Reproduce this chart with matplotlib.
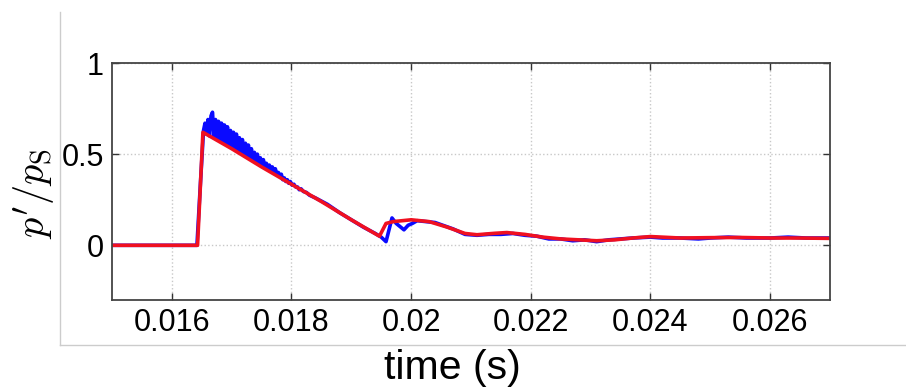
import matplotlib
matplotlib.use('Agg')
import matplotlib.pyplot as plt
from matplotlib.lines import Line2D

# measured pressure trace (blue) and model (red), normalised by p_S
t_meas = [0.0150, 0.01642, 0.01648,
          0.016530, 0.016555, 0.016580, 0.016605, 0.016630, 0.016655, 0.016680,
          0.016705, 0.016730, 0.016755, 0.016780, 0.016805, 0.016830, 0.016855,
          0.016880, 0.016905, 0.016930, 0.016955, 0.016980, 0.017005, 0.017030,
          0.017055, 0.017080, 0.017105, 0.017130, 0.017155, 0.017180, 0.017205,
          0.017230, 0.017255, 0.017280, 0.017305, 0.017330, 0.017355, 0.017380,
          0.017405, 0.017430, 0.017455, 0.017480, 0.017505, 0.017530, 0.017555,
          0.017580, 0.017605, 0.017630, 0.017655, 0.017680, 0.017705, 0.017730,
          0.017755, 0.017780, 0.017805, 0.017830, 0.017855, 0.017880, 0.017905,
          0.017930, 0.017955, 0.017980, 0.018010, 0.018040, 0.018070, 0.018100,
          0.018130, 0.018160, 0.018200, 0.018250, 0.018300,
          0.01840, 0.01860, 0.01880, 0.01900, 0.01920, 0.01940, 0.01950, 0.01958,
          0.01968, 0.01975, 0.01988, 0.01995, 0.02002, 0.0201, 0.0204, 0.0207,
          0.0209, 0.0211, 0.0213, 0.0215, 0.0217, 0.0219, 0.0221, 0.0223, 0.0225,
          0.0227, 0.0229, 0.0231, 0.0233, 0.0235, 0.0237, 0.0240, 0.0242, 0.0245,
          0.0248, 0.0250, 0.0253, 0.0256, 0.0260, 0.0263, 0.0266, 0.0270]
p_meas = [0.0, 0.0, 0.35,
          0.63, 0.67, 0.61, 0.69, 0.60, 0.71, 0.73,
          0.59, 0.69, 0.58, 0.68, 0.58, 0.67, 0.57,
          0.66, 0.56, 0.65, 0.55, 0.63, 0.54, 0.62,
          0.53, 0.61, 0.52, 0.59, 0.51, 0.58, 0.50,
          0.56, 0.49, 0.55, 0.48, 0.53, 0.47, 0.51,
          0.46, 0.50, 0.45, 0.48, 0.44, 0.47, 0.43,
          0.45, 0.42, 0.44, 0.41, 0.43, 0.40, 0.42,
          0.39, 0.40, 0.38, 0.39, 0.36, 0.37, 0.35,
          0.36, 0.34, 0.35, 0.33, 0.335, 0.32, 0.32,
          0.305, 0.31, 0.295, 0.29, 0.275,
          0.26, 0.225, 0.18, 0.14, 0.10, 0.065, 0.045, 0.02,
          0.15, 0.12, 0.085, 0.11, 0.12, 0.135, 0.125, 0.09,
          0.06, 0.055, 0.06, 0.06, 0.065, 0.055, 0.05, 0.035, 0.035,
          0.025, 0.03, 0.02, 0.03, 0.035, 0.04, 0.045, 0.04, 0.04,
          0.035, 0.04, 0.045, 0.04, 0.04, 0.045, 0.04, 0.04]

t_model = [0.0150, 0.01643, 0.01652, 0.0170, 0.0175, 0.0180, 0.0185, 0.0190,
           0.01947, 0.01958, 0.0197, 0.0200, 0.0203, 0.0206, 0.0209, 0.0211,
           0.0214, 0.0216, 0.0219, 0.0222, 0.0225, 0.0228, 0.0231, 0.0234,
           0.0237, 0.0240, 0.0245, 0.0250, 0.0255, 0.0260, 0.0265, 0.0270]
p_model = [0.0, 0.0, 0.62, 0.53, 0.43, 0.335, 0.24, 0.14,
           0.05, 0.12, 0.13, 0.14, 0.13, 0.10, 0.065, 0.058,
           0.066, 0.07, 0.06, 0.045, 0.035, 0.03, 0.025, 0.03,
           0.04, 0.048, 0.04, 0.042, 0.043, 0.04, 0.04, 0.038]

x_ticks = [0.016, 0.018, 0.020, 0.022, 0.024, 0.026]
x_labels = ['0.016', '0.018', '0.02', '0.022', '0.024', '0.026']
y_ticks = [0, 0.5, 1]
y_labels = ['0', '0.5', '1']

plt.rcParams['font.family'] = ['Liberation Sans', 'DejaVu Sans']
plt.rcParams['mathtext.fontset'] = 'cm'

fig = plt.figure(figsize=(9.06, 3.88), dpi=100)
ax = fig.add_axes([0.1236, 0.2268, 0.7925, 0.6108])

ax.plot(t_meas, p_meas, color='#0a0aff', lw=2.6)
ax.plot(t_model, p_model, color='#f01020', lw=2.6)

ax.set_xlim(0.015, 0.027)
ax.set_ylim(-0.3, 1)
ax.set_xticks(x_ticks)
ax.set_xticklabels(x_labels)
ax.set_yticks(y_ticks)
ax.set_yticklabels(y_labels)
ax.tick_params(direction='in', length=5, width=1, colors='#333333',
               labelcolor='black', labelsize=22, top=True, right=True, pad=6)
ax.grid(True, linestyle=':', color='#c8c8c8', lw=1)
for s in ax.spines.values():
    s.set_color('#444444')
    s.set_linewidth(1.3)

ax.set_xlabel('time (s)', fontsize=29.5)
ax.xaxis.set_label_coords(0.4735, -0.205)
ax.set_ylabel(r"$p'/p_\mathrm{S}$", fontsize=29)
ax.yaxis.set_label_coords(-0.076, 0.45)

# thin frame lines around the plot area
fig.add_artist(Line2D([60 / 906, 60 / 906], [1 - 12 / 388, 1 - 345 / 388],
                      transform=fig.transFigure, color='#cccccc', lw=1))
fig.add_artist(Line2D([60 / 906, 1.0], [1 - 345 / 388, 1 - 345 / 388],
                      transform=fig.transFigure, color='#cccccc', lw=1))

fig.savefig('out.png', dpi=100)
